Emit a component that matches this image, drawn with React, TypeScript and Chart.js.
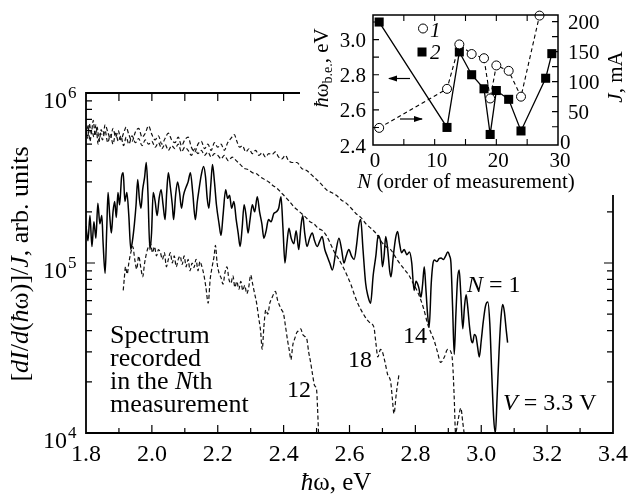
import { useEffect, useRef } from 'react';
import { Chart, registerables } from 'chart.js';
Chart.register(...registerables);

const FONT = '"Liberation Serif", "Times New Roman", Times, serif';

// ---- Main chart data: photon energy (eV) and spectral intensity (arb. units) ----
const n1E = [1.800,1.806,1.812,1.818,1.824,1.830,1.836,1.842,1.848,1.852,1.858,1.863,1.867,1.872,1.877,1.882,1.887,1.892,1.897,1.902,1.908,1.913,1.918,1.924,1.930,1.936,1.941,1.947,1.952,1.957,1.962,1.967,1.972,1.978,1.983,1.988,1.994,1.999,2.004,2.010,2.016,2.022,2.028,2.034,2.040,2.045,2.050,2.056,2.062,2.066,2.072,2.078,2.084,2.090,2.096,2.104,2.110,2.117,2.124,2.132,2.138,2.143,2.150,2.157,2.163,2.168,2.173,2.179,2.184,2.190,2.196,2.204,2.210,2.216,2.224,2.230,2.236,2.242,2.249,2.256,2.262,2.268,2.274,2.280,2.286,2.292,2.298,2.305,2.312,2.320,2.327,2.334,2.340,2.347,2.354,2.362,2.370,2.378,2.385,2.392,2.398,2.404,2.410,2.416,2.423,2.431,2.438,2.446,2.452,2.458,2.464,2.471,2.479,2.487,2.494,2.502,2.510,2.517,2.525,2.532,2.540,2.548,2.558,2.568,2.576,2.583,2.590,2.598,2.606,2.614,2.622,2.628,2.634,2.641,2.649,2.656,2.664,2.672,2.680,2.687,2.695,2.700,2.705,2.710,2.716,2.722,2.726,2.733,2.740,2.746,2.752,2.758,2.766,2.774,2.782,2.789,2.796,2.802,2.810,2.817,2.822,2.827,2.832,2.837,2.842,2.848,2.853,2.858,2.865,2.872,2.878,2.885,2.892,2.898,2.904,2.908,2.913,2.918,2.923,2.928,2.933,2.938,2.944,2.949,2.954,2.959,2.964,2.970,2.974,2.979,2.984,2.989,2.994,3.000,3.006,3.013,3.020,3.026,3.032,3.038,3.043,3.048,3.054,3.060,3.065,3.070,3.076,3.080];
const n1V = [1.65e5,1.35e5,1.9e5,1.25e5,1.75e5,1.4e5,2.25e5,1.7e5,1.9e5,1.3e5,8.7e4,1.6e5,2.6e5,1.9e5,1.5e5,2.0e5,2.3e5,1.85e5,2.6e5,2.2e5,3.2e5,3.4e5,2.3e5,2.6e5,1.9e5,1.2e5,1.35e5,1.7e5,2.2e5,3.1e5,2.4e5,2.1e5,2.7e5,3.2e5,3.9e5,2.6e5,1.2e5,1.5e5,2.6e5,2.3e5,1.9e5,2.4e5,2.7e5,2.2e5,1.8e5,2.6e5,3.4e5,2.8e5,2.2e5,1.8e5,2.5e5,3.0e5,2.6e5,2.1e5,2.5e5,2.8e5,3.0e5,3.4e5,2.6e5,1.8e5,2.3e5,2.7e5,3.3e5,3.7e5,3.2e5,2.4e5,2.1e5,2.9e5,3.8e5,3.0e5,2.2e5,1.7e5,1.45e5,1.9e5,2.7e5,2.4e5,2.5e5,2.1e5,2.3e5,1.8e5,1.5e5,1.25e5,1.6e5,2.2e5,1.9e5,1.5e5,1.8e5,2.2e5,2.0e5,2.45e5,2.0e5,1.7e5,1.4e5,1.55e5,1.8e5,1.75e5,1.95e5,2.0e5,2.1e5,2.45e5,1.6e5,1.0e5,1.3e5,1.6e5,1.4e5,1.3e5,1.55e5,1.2e5,1.6e5,1.9e5,1.5e5,1.25e5,1.4e5,1.5e5,1.35e5,1.25e5,1.35e5,1.43e5,1.2e5,1.1e5,1.0e5,9.1e4,1.15e5,1.4e5,1.2e5,1.0e5,1.1e5,1.2e5,1.1e5,1.05e5,1.3e5,1.65e5,1.8e5,1.2e5,7.6e4,6.4e4,5.8e4,8.5e4,1.1e5,1.45e5,1.3e5,9.5e4,1.1e5,1.43e5,1.2e5,9.0e4,8.3e4,1.1e5,1.4e5,1.53e5,1.3e5,1.15e5,1.2e5,1.12e5,1.16e5,1.0e5,6.9e4,7.8e4,7.2e4,6.3e4,7.5e4,9.5e4,7.0e4,5.0e4,4.2e4,7.5e4,9.8e4,1.04e5,1.02e5,1.06e5,1.07e5,1.05e5,1.1e5,1.16e5,1.1e5,1.0e5,5.5e4,2.9e4,5.0e4,8.0e4,9.1e4,6.5e4,4.1e4,5.5e4,6.5e4,5.5e4,4.3e4,3.5e4,3.4e4,3.8e4,3.7e4,3.2e4,2.8e4,3.5e4,4.5e4,5.6e4,5.9e4,4.4e4,2.2e4,1.2e4,1.0e4,1.6e4,3.0e4,4.8e4,5.7e4,5.2e4,4.0e4,3.4e4];

const n14E = [1.800,1.805,1.810,1.816,1.822,1.828,1.834,1.840,1.846,1.852,1.858,1.866,1.874,1.882,1.890,1.898,1.906,1.914,1.922,1.930,1.940,1.950,1.960,1.970,1.980,1.990,2.000,2.010,2.020,2.030,2.040,2.050,2.060,2.070,2.080,2.090,2.100,2.110,2.120,2.130,2.140,2.150,2.160,2.170,2.180,2.190,2.200,2.210,2.220,2.230,2.240,2.250,2.258,2.266,2.275,2.285,2.295,2.305,2.315,2.325,2.335,2.345,2.355,2.365,2.375,2.385,2.395,2.405,2.415,2.425,2.440,2.455,2.470,2.485,2.500,2.515,2.530,2.545,2.560,2.575,2.590,2.605,2.620,2.635,2.650,2.665,2.680,2.695,2.710,2.725,2.740,2.755,2.770,2.780,2.790,2.800,2.812,2.825,2.837,2.847,2.857,2.867,2.877,2.888,2.898,2.908,2.913,2.918,2.922,2.930,2.938,2.944,2.948];
const n14V = [6.2e5,5.4e5,6.6e5,5.8e5,6.9e5,5.6e5,6.3e5,5.2e5,6.1e5,5.7e5,6.5e5,5.9e5,5.4e5,6.2e5,5.5e5,6.0e5,5.3e5,5.8e5,6.3e5,5.7e5,5.2e5,5.9e5,6.2e5,5.5e5,5.8e5,6.4e5,5.7e5,5.3e5,5.6e5,5.0e5,5.4e5,5.8e5,5.3e5,5.1e5,5.5e5,4.9e5,5.3e5,5.5e5,4.8e5,4.5e5,5.0e5,5.2e5,4.7e5,5.0e5,4.6e5,5.1e5,4.8e5,5.0e5,4.6e5,5.1e5,5.4e5,5.7e5,5.2e5,4.8e5,4.9e5,4.5e5,4.7e5,4.4e5,4.6e5,4.3e5,4.45e5,4.2e5,4.4e5,4.35e5,4.5e5,4.2e5,4.1e5,4.3e5,4.0e5,3.9e5,3.9e5,3.6e5,3.5e5,3.3e5,3.1e5,2.9e5,2.7e5,2.6e5,2.5e5,2.35e5,2.25e5,2.1e5,1.95e5,1.85e5,1.7e5,1.6e5,1.5e5,1.35e5,1.25e5,1.2e5,1.08e5,9.8e4,9.0e4,8.5e4,7.8e4,7.2e4,6.4e4,5.4e4,4.4e4,3.9e4,3.5e4,3.0e4,2.6e4,2.8e4,3.1e4,3.0e4,2.6e4,1.6e4,1.0e4,1.2e4,1.4e4,1.15e4,1.0e4];

const n18E = [1.800,1.806,1.812,1.818,1.824,1.830,1.837,1.844,1.850,1.858,1.866,1.874,1.882,1.890,1.898,1.906,1.914,1.922,1.930,1.940,1.950,1.960,1.970,1.980,1.990,2.000,2.010,2.020,2.030,2.040,2.050,2.060,2.070,2.080,2.090,2.100,2.110,2.120,2.130,2.140,2.150,2.160,2.170,2.180,2.190,2.200,2.210,2.220,2.232,2.244,2.256,2.268,2.280,2.292,2.305,2.318,2.330,2.342,2.355,2.368,2.380,2.392,2.405,2.418,2.430,2.442,2.455,2.468,2.480,2.492,2.505,2.518,2.530,2.542,2.555,2.568,2.580,2.592,2.604,2.615,2.625,2.635,2.645,2.655,2.665,2.674,2.680,2.686,2.694,2.700,2.708,2.716,2.725,2.730,2.735,2.742,2.750];
const n18V = [5.6e5,6.4e5,5.2e5,6.0e5,5.5e5,6.5e5,5.0e5,5.8e5,5.3e5,6.0e5,5.1e5,5.7e5,5.0e5,5.8e5,5.2e5,5.6e5,4.9e5,5.5e5,5.0e5,5.6e5,5.1e5,5.4e5,4.9e5,5.3e5,5.0e5,5.2e5,4.8e5,5.1e5,4.7e5,5.0e5,4.6e5,4.9e5,4.7e5,5.0e5,4.5e5,4.8e5,4.6e5,4.3e5,4.7e5,4.4e5,4.6e5,4.3e5,4.5e5,4.2e5,4.4e5,4.3e5,4.1e5,4.3e5,4.0e5,4.2e5,4.0e5,3.8e5,3.6e5,3.55e5,3.4e5,3.35e5,3.2e5,3.1e5,3.0e5,2.85e5,2.75e5,2.6e5,2.45e5,2.3e5,2.15e5,2.05e5,1.95e5,1.85e5,1.75e5,1.7e5,1.6e5,1.55e5,1.45e5,1.3e5,1.15e5,1.05e5,9.5e4,8.5e4,7.5e4,6.5e4,5.8e4,5.3e4,4.9e4,4.6e4,4.4e4,4.2e4,3.4e4,2.8e4,3.1e4,3.0e4,2.6e4,2.2e4,2.0e4,1.6e4,1.3e4,1.7e4,2.2e4];

const n12E = [1.913,1.916,1.920,1.925,1.930,1.936,1.942,1.948,1.954,1.960,1.966,1.972,1.978,1.984,1.990,1.996,2.002,2.008,2.014,2.020,2.026,2.032,2.038,2.044,2.050,2.056,2.062,2.068,2.074,2.080,2.086,2.092,2.098,2.104,2.110,2.116,2.122,2.128,2.134,2.140,2.146,2.152,2.158,2.164,2.171,2.177,2.183,2.189,2.193,2.198,2.204,2.210,2.216,2.222,2.228,2.234,2.240,2.246,2.252,2.258,2.264,2.270,2.276,2.282,2.288,2.294,2.300,2.306,2.312,2.318,2.324,2.330,2.335,2.340,2.346,2.352,2.358,2.364,2.370,2.375,2.382,2.388,2.394,2.400,2.406,2.412,2.418,2.422,2.428,2.434,2.440,2.446,2.452,2.458,2.464,2.470,2.476,2.482,2.488,2.494,2.500,2.503,2.506];
const n12V = [6.9e4,8.0e4,9.5e4,8.6e4,1.0e5,1.15e5,1.25e5,1.05e5,9.2e4,1.1e5,9.5e4,8.3e4,1.0e5,1.15e5,1.25e5,1.3e5,1.15e5,1.25e5,1.1e5,1.2e5,1.15e5,1.05e5,1.15e5,9.5e4,1.05e5,1.15e5,1.0e5,1.1e5,9.5e4,1.05e5,1.1e5,9.8e4,1.1e5,9.5e4,1.05e5,9.0e4,1.0e5,9.4e4,1.05e5,9.0e4,1.02e5,9.5e4,8.5e4,7.2e4,5.8e4,8.0e4,9.5e4,1.1e5,1.27e5,1.0e5,8.7e4,8.2e4,7.5e4,8.8e4,9.5e4,8.0e4,7.6e4,8.4e4,7.2e4,7.8e4,7.0e4,7.8e4,6.9e4,7.4e4,6.6e4,7.2e4,8.5e4,7.5e4,6.6e4,5.8e4,4.8e4,4.0e4,3.1e4,4.2e4,5.3e4,5.0e4,5.8e4,6.2e4,6.6e4,6.8e4,6.0e4,5.6e4,5.3e4,5.0e4,4.2e4,3.5e4,3.0e4,2.7e4,3.3e4,3.6e4,3.9e4,4.0e4,4.1e4,3.8e4,3.7e4,3.6e4,3.0e4,2.6e4,2.2e4,1.9e4,1.8e4,1.4e4,1.0e4];

const xTicks = [1.8, 2.0, 2.2, 2.4, 2.6, 2.8, 3.0, 3.2, 3.4];
const xTickLabels = ['1.8', '2.0', '2.2', '2.4', '2.6', '2.8', '3.0', '3.2', '3.4'];
const yTicks = [1e4, 1e5, 1e6];
const yTickExp = ['4', '5', '6'];

// ---- Inset data ----
const inN1 = [1, 12, 14, 16, 18, 19, 20, 22, 24, 27];
const inJ1 = [23, 88, 162, 146, 139, 72, 127, 118, 75, 210];
const inN2 = [1, 12, 14, 16, 18, 19, 20, 22, 24, 28, 29];
const inE2 = [3.10, 2.50, 2.93, 2.80, 2.72, 2.46, 2.71, 2.66, 2.48, 2.78, 2.92];
const inXTicks = [0, 10, 20, 30];
const inLTicks = [2.4, 2.6, 2.8, 3.0];
const inRTicks = [0, 50, 100, 150, 200];

type Seg = { t: string; i?: boolean; s?: number; dy?: number };
function rich(ctx: CanvasRenderingContext2D, segs: Seg[], x: number, y: number, size: number, align: 'left' | 'center' | 'right') {
  const f = (sg: Seg) => `${sg.i ? 'italic ' : ''}${sg.s ?? size}px ${FONT}`;
  let w = 0;
  for (const sg of segs) { ctx.font = f(sg); w += ctx.measureText(sg.t).width; }
  let cx = align === 'left' ? x : align === 'center' ? x - w / 2 : x - w;
  ctx.textAlign = 'left';
  ctx.textBaseline = 'alphabetic';
  for (const sg of segs) {
    ctx.font = f(sg);
    ctx.fillText(sg.t, cx, y + (sg.dy || 0));
    cx += ctx.measureText(sg.t).width;
  }
}

function arrow(ctx: CanvasRenderingContext2D, x0: number, x1: number, y: number) {
  ctx.beginPath(); ctx.moveTo(x0, y); ctx.lineTo(x1, y); ctx.stroke();
  const dir = x1 > x0 ? 1 : -1;
  ctx.beginPath();
  ctx.moveTo(x1 + dir * 1, y);
  ctx.lineTo(x1 - dir * 8, y - 3);
  ctx.lineTo(x1 - dir * 8, y + 3);
  ctx.closePath(); ctx.fill();
}

const pts = (xs: number[], ys: number[]) => xs.map((x, i) => ({ x, y: ys[i] }));

const mainDeco = {
  id: 'mainDeco',
  afterDraw(chart: any) {
    const { ctx, chartArea: a } = chart;
    const x = chart.scales.x, y = chart.scales.y;
    ctx.save();
    ctx.strokeStyle = '#000';
    ctx.fillStyle = '#000';
    ctx.lineWidth = 1.8;
    ctx.beginPath();
    ctx.moveTo(300, a.top); ctx.lineTo(a.left, a.top); ctx.lineTo(a.left, a.bottom);
    ctx.lineTo(a.right, a.bottom); ctx.lineTo(a.right, 195);
    ctx.stroke();
    ctx.lineWidth = 1.2;
    ctx.beginPath();
    for (let i = 1; i < 16; i++) {
      const px = x.getPixelForValue(1.8 + i * 0.1);
      const len = i % 2 === 0 ? 8 : 5;
      ctx.moveTo(px, a.bottom); ctx.lineTo(px, a.bottom - len);
      if (px < 298) { ctx.moveTo(px, a.top); ctx.lineTo(px, a.top + 8); }
    }
    for (let d = 4; d <= 5; d++) for (let m = 1; m <= 9; m++) {
      const py = y.getPixelForValue(m * Math.pow(10, d));
      const len = m === 1 ? 9 : 6;
      ctx.moveTo(a.left, py); ctx.lineTo(a.left + len, py);
      if (py >= 197) { ctx.moveTo(a.right, py); ctx.lineTo(a.right - len, py); }
    }
    ctx.stroke();

    ctx.font = `24px ${FONT}`;
    ctx.textAlign = 'center';
    ctx.textBaseline = 'alphabetic';
    xTicks.forEach((v, i) => ctx.fillText(xTickLabels[i], x.getPixelForValue(v), 461));
    yTicks.forEach((v, i) => {
      const py = y.getPixelForValue(v);
      ctx.font = `24px ${FONT}`;
      ctx.textAlign = 'right';
      ctx.fillText('10', 67, py + 15);
      ctx.font = `17px ${FONT}`;
      ctx.textAlign = 'left';
      ctx.fillText(yTickExp[i], 68, py + 5);
    });

    rich(ctx, [{ t: 'ħ', i: true }, { t: 'ω, eV' }], 336, 490, 25, 'center');
    ctx.save();
    ctx.translate(28, 264);
    ctx.rotate(-Math.PI / 2);
    rich(ctx, [{ t: '[' }, { t: 'dI', i: true }, { t: '/' }, { t: 'd', i: true }, { t: '(' }, { t: 'ħ', i: true }, { t: 'ω)]/' }, { t: 'J', i: true }, { t: ', arb. units' }], 0, 0, 26, 'center');
    ctx.restore();

    rich(ctx, [{ t: 'Spectrum' }], 110, 343, 26, 'left');
    rich(ctx, [{ t: 'recorded' }], 110, 366, 26, 'left');
    rich(ctx, [{ t: 'in the ' }, { t: 'N', i: true }, { t: 'th' }], 110, 389, 26, 'left');
    rich(ctx, [{ t: 'measurement' }], 110, 412, 26, 'left');
    rich(ctx, [{ t: '12' }], 287, 397, 24, 'left');
    rich(ctx, [{ t: '18' }], 348, 367, 24, 'left');
    rich(ctx, [{ t: '14' }], 403, 343, 24, 'left');
    rich(ctx, [{ t: 'N', i: true }, { t: ' = 1' }], 467, 292, 24, 'left');
    rich(ctx, [{ t: 'V', i: true }, { t: ' = 3.3 V' }], 503, 410, 24, 'left');
    ctx.restore();
  },
};

const insetDeco = {
  id: 'insetDeco',
  afterDraw(chart: any) {
    const { ctx, chartArea: a } = chart;
    const x = chart.scales.x, yL = chart.scales.yL, yR = chart.scales.yR;
    ctx.save();
    ctx.strokeStyle = '#000';
    ctx.fillStyle = '#000';
    ctx.lineWidth = 1.5;
    ctx.strokeRect(a.left, a.top, a.right - a.left, a.bottom - a.top);
    ctx.lineWidth = 1.1;
    ctx.beginPath();
    for (let n = 5; n < 30; n += 5) {
      const px = x.getPixelForValue(n);
      ctx.moveTo(px, a.bottom); ctx.lineTo(px, a.bottom - 6);
      ctx.moveTo(px, a.top); ctx.lineTo(px, a.top + 6);
    }
    for (let k = 1; k <= 7; k++) {
      const py = yL.getPixelForValue(2.4 + k * 0.1);
      if (py < a.top + 1) continue;
      ctx.moveTo(a.left, py); ctx.lineTo(a.left + 6, py);
    }
    for (let j = 25; j <= 200; j += 25) {
      const py = yR.getPixelForValue(j);
      ctx.moveTo(a.right, py); ctx.lineTo(a.right - 6, py);
    }
    ctx.stroke();

    ctx.font = `21px ${FONT}`;
    ctx.textBaseline = 'alphabetic';
    ctx.textAlign = 'center';
    inXTicks.forEach((v) => ctx.fillText(String(v), x.getPixelForValue(v) + 2, 167));
    ctx.textAlign = 'right';
    inLTicks.forEach((v) => ctx.fillText(v.toFixed(1), 366, yL.getPixelForValue(v) + 7.5));
    ctx.textAlign = 'left';
    inRTicks.forEach((v) => ctx.fillText(String(v), v === 0 ? 560 : 568, yR.getPixelForValue(v) + 7));

    rich(ctx, [{ t: 'N', i: true }, { t: ' (order of measurement)' }], 466, 188, 21, 'center');
    ctx.save();
    ctx.translate(328, 68);
    ctx.rotate(-Math.PI / 2);
    rich(ctx, [{ t: 'ħ', i: true }, { t: 'ω' }, { t: 'b.e.', s: 14, dy: 4 }, { t: ', eV' }], 0, 0, 21, 'center');
    ctx.restore();
    ctx.save();
    ctx.translate(622, 77);
    ctx.rotate(-Math.PI / 2);
    rich(ctx, [{ t: 'J', i: true }, { t: ', mA' }], 0, 0, 21, 'center');
    ctx.restore();

    ctx.lineWidth = 1;
    ctx.beginPath(); ctx.arc(423, 28.5, 4.5, 0, Math.PI * 2);
    ctx.fillStyle = '#fff'; ctx.fill(); ctx.stroke();
    ctx.fillStyle = '#000';
    ctx.fillRect(417.5, 47.5, 9, 9);
    rich(ctx, [{ t: '1', i: true }], 430, 37, 21, 'left');
    rich(ctx, [{ t: '2', i: true }], 430, 59, 21, 'left');

    ctx.lineWidth = 1.2;
    arrow(ctx, 410, 389, 78.5);
    arrow(ctx, 400, 422, 119);
    ctx.restore();
  },
};

export default function App() {
  const mainRef = useRef<HTMLCanvasElement>(null);
  const insetRef = useRef<HTMLCanvasElement>(null);

  useEffect(() => {
    const dash = [4, 2.5];
    const curve = { tension: 0.3, cubicInterpolationMode: 'monotone', pointRadius: 0 };
    const main = new Chart(mainRef.current!, {
      type: 'line',
      data: {
        datasets: [
          { data: pts(n14E, n14V), borderColor: '#111', borderWidth: 1.2, borderDash: dash, ...curve },
          { data: pts(n18E, n18V), borderColor: '#111', borderWidth: 1.2, borderDash: dash, ...curve },
          { data: pts(n12E, n12V), borderColor: '#111', borderWidth: 1.2, borderDash: dash, ...curve },
          { data: pts(n1E, n1V), borderColor: '#000', borderWidth: 1.5, ...curve },
        ],
      },
      options: {
        responsive: false,
        animation: false,
        layout: { padding: { left: 86, right: 16, top: 93, bottom: 65 } },
        scales: {
          x: { type: 'linear', min: 1.8, max: 3.4, display: false },
          y: { type: 'logarithmic', min: 1e4, max: 1e6, display: false },
        },
        plugins: { legend: { display: false }, tooltip: { enabled: false } },
      },
      plugins: [mainDeco],
    } as any);

    const inset = new Chart(insetRef.current!, {
      type: 'line',
      data: {
        datasets: [
          {
            data: pts(inN1, inJ1), yAxisID: 'yR', borderColor: '#000', borderWidth: 1.1, borderDash: [4, 3],
            pointStyle: 'circle', pointRadius: 4.5, pointBackgroundColor: '#fff', pointBorderColor: '#000', pointBorderWidth: 1, clip: false,
          },
          {
            data: pts(inN2, inE2), yAxisID: 'yL', borderColor: '#000', borderWidth: 1.3,
            pointStyle: 'rect', pointRadius: 6.4, pointBackgroundColor: '#000', pointBorderColor: '#000', pointBorderWidth: 0, clip: false,
          },
        ],
      },
      options: {
        responsive: false,
        animation: false,
        layout: { padding: { left: 373, right: 71, top: 15, bottom: 353 } },
        scales: {
          x: { type: 'linear', min: 0, max: 30, display: false },
          yL: { type: 'linear', position: 'left', min: 2.4, max: 3.14, display: false },
          yR: { type: 'linear', position: 'right', min: -5.5, max: 211, display: false },
        },
        plugins: { legend: { display: false }, tooltip: { enabled: false } },
        elements: { line: { tension: 0 } },
      },
      plugins: [insetDeco],
    } as any);

    return () => { main.destroy(); inset.destroy(); };
  }, []);

  return (
    <div style={{ position: 'fixed', left: 0, top: 0, width: 629, height: 498, background: '#fff' }}>
      <canvas ref={mainRef} width={629} height={498} style={{ position: 'absolute', left: 0, top: 0 }} />
      <canvas ref={insetRef} width={629} height={498} style={{ position: 'absolute', left: 0, top: 0, pointerEvents: 'none' }} />
    </div>
  );
}
